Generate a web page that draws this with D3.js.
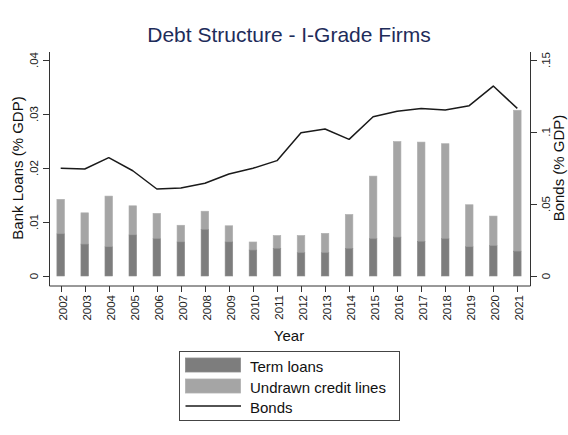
<!DOCTYPE html>
<html><head><meta charset="utf-8">
<script src="https://cdn.jsdelivr.net/npm/d3@7"></script>
<style>
html,body{margin:0;padding:0;background:#fff;}
text{font-family:"Liberation Sans",Arial,Helvetica,sans-serif;}
</style></head>
<body>
<svg id="chart" width="568" height="435"></svg>
<script>
const years = ["2002","2003","2004","2005","2006","2007","2008","2009","2010","2011","2012","2013","2014","2015","2016","2017","2018","2019","2020","2021"];
const termLoans = [0.0078,0.0059,0.0054,0.0076,0.0069,0.0063,0.0086,0.0063,0.0048,0.0051,0.0043,0.0043,0.0051,0.0069,0.0072,0.0064,0.0069,0.0054,0.0056,0.0046];
const totalLoans = [0.0142,0.0117,0.0148,0.0130,0.0116,0.0094,0.0120,0.0093,0.0063,0.0075,0.0075,0.0079,0.0114,0.0185,0.0249,0.0248,0.0245,0.0132,0.0111,0.0307];
const undrawnLines = totalLoans.map((t,i)=>+(t-termLoans[i]).toFixed(4));
const bonds = [0.0748,0.0743,0.0822,0.0731,0.0604,0.0611,0.0644,0.0708,0.0748,0.0801,0.0995,0.1021,0.0949,0.1106,0.1144,0.1164,0.1153,0.1183,0.1319,0.1164];
const leftTicks = [0,0.01,0.02,0.03,0.04];
const leftTickLabels = ["0",".01",".02",".03",".04"];
const rightTicks = [0,0.05,0.1,0.15];
const rightTickLabels = ["0",".05",".1",".15"];
const legendLabels = ["Term loans","Undrawn credit lines","Bonds"];

const svg = d3.select("#chart");
const C_TERM = "#7d7d7d", C_UND = "#a5a5a5";

const x = d3.scalePoint().domain(years).range([60.7, 517.3]);
const yL = d3.scaleLinear().domain([0,0.04]).range([276,60]);
const yR = d3.scaleLinear().domain([0,0.15]).range([276,60]);
const bw = 7.6;

// title
svg.append("text").attr("x",289).attr("y",41.5).attr("text-anchor","middle")
  .attr("font-size",21).attr("fill","#1e2c5a").text("Debt Structure - I-Grade Firms");

// bars
const data = years.map((y,i)=>({y, term:termLoans[i], und:undrawnLines[i]}));
const g = svg.append("g");
g.selectAll("rect.und").data(data).join("rect").attr("class","und")
  .attr("x",d=>x(d.y)-bw/2).attr("width",bw)
  .attr("y",d=>yL(d.term+d.und)).attr("height",d=>yL(d.term)-yL(d.term+d.und))
  .attr("fill",C_UND).attr("stroke","#b0b0b0").attr("stroke-width",0.6);
g.selectAll("rect.term").data(data).join("rect").attr("class","term")
  .attr("x",d=>x(d.y)-bw/2).attr("width",bw)
  .attr("y",d=>yL(d.term)).attr("height",d=>yL(0)-yL(d.term))
  .attr("fill",C_TERM).attr("stroke","#8c8c8c").attr("stroke-width",0.6);

// bonds line
const line = d3.line().x((d,i)=>x(years[i])).y(d=>yR(d));
svg.append("path").datum(bonds).attr("d",line).attr("fill","none")
  .attr("stroke","#1a1a1a").attr("stroke-width",1.5).attr("stroke-linejoin","round");

// axes
const axisCol = "#333";
const pTop = 52, pBottom = 286, pLeft = 49.5, pRight = 530.5;
const ax = svg.append("g").attr("fill","none").attr("stroke",axisCol).attr("stroke-width",1);
ax.append("line").attr("x1",pLeft).attr("x2",pLeft).attr("y1",pTop).attr("y2",pBottom);
ax.append("line").attr("x1",pRight).attr("x2",pRight).attr("y1",pTop).attr("y2",pBottom);
ax.append("line").attr("x1",pLeft).attr("x2",pRight).attr("y1",pBottom).attr("y2",pBottom);

// left ticks
leftTicks.forEach((v,i)=>{
  const yy = Math.round(yL(v))+0.5;
  ax.append("line").attr("x1",pLeft-6.5).attr("x2",pLeft).attr("y1",yy).attr("y2",yy);
  svg.append("text").attr("transform",`translate(37.5,${yL(v)}) rotate(-90)`)
    .attr("text-anchor","middle").attr("font-size",11.5).attr("fill","#222").text(leftTickLabels[i]);
});
// right ticks
rightTicks.forEach((v,i)=>{
  const yy = Math.round(yR(v))+0.5;
  ax.append("line").attr("x1",pRight).attr("x2",pRight+6.5).attr("y1",yy).attr("y2",yy);
  svg.append("text").attr("transform",`translate(549.5,${yR(v)}) rotate(-90)`)
    .attr("text-anchor","middle").attr("font-size",11.5).attr("fill","#222").text(rightTickLabels[i]);
});
// x ticks
years.forEach(yr=>{
  const xx = Math.round(x(yr))+0.5;
  ax.append("line").attr("x1",xx).attr("x2",xx).attr("y1",pBottom).attr("y2",pBottom+6);
  svg.append("text").attr("transform",`translate(${x(yr)+5.8},295) rotate(-90)`)
    .attr("text-anchor","end").attr("font-size",11.5).attr("fill","#222").text(yr);
});

// axis titles
svg.append("text").attr("transform","translate(23,168) rotate(-90)").attr("text-anchor","middle")
  .attr("font-size",15).attr("fill","#111").text("Bank Loans (% GDP)");
svg.append("text").attr("transform","translate(564,168) rotate(-90)").attr("text-anchor","middle")
  .attr("font-size",15).attr("fill","#111").text("Bonds (% GDP)");
svg.append("text").attr("x",289).attr("y",340.5).attr("text-anchor","middle")
  .attr("font-size",15).attr("fill","#111").text("Year");

// legend
const lg = svg.append("g");
lg.append("rect").attr("x",179.5).attr("y",351.5).attr("width",220).attr("height",69)
  .attr("fill","#fff").attr("stroke","#444").attr("stroke-width",1);
lg.append("rect").attr("x",185.5).attr("y",358).attr("width",55).attr("height",14)
  .attr("fill",C_TERM).attr("stroke","#8c8c8c").attr("stroke-width",0.8);
lg.append("rect").attr("x",185.5).attr("y",379).attr("width",55).attr("height",14)
  .attr("fill",C_UND).attr("stroke","#b0b0b0").attr("stroke-width",0.8);
lg.append("line").attr("x1",185.5).attr("x2",241).attr("y1",406).attr("y2",406)
  .attr("stroke","#1a1a1a").attr("stroke-width",1.5);
[372,392.5,413].forEach((yy,i)=>{
  lg.append("text").attr("x",250).attr("y",yy).attr("font-size",15).attr("fill","#111").text(legendLabels[i]);
});
</script>
</body></html>
